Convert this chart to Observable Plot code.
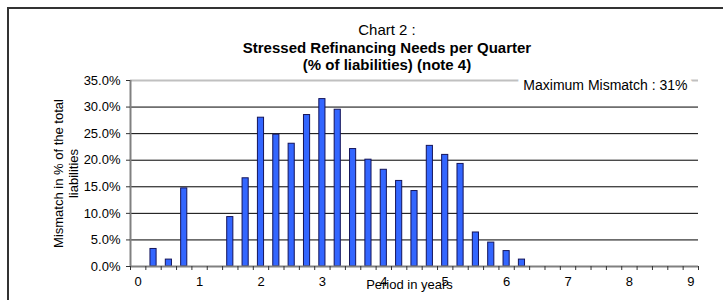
<!DOCTYPE html>
<html><head><meta charset="utf-8">
<script src="https://cdn.jsdelivr.net/npm/d3@7"></script>
<script src="https://cdn.jsdelivr.net/npm/@observablehq/plot@0.6"></script>
<style>
body{margin:0;background:#fff;overflow:hidden;font-family:"Liberation Sans",Arial,sans-serif;}
#wrap{position:relative;width:723px;height:300px;overflow:hidden;}
#frame{position:absolute;left:7px;top:7px;width:900px;height:400px;border-left:2px solid #333;border-top:2px solid #333;}
#title{position:absolute;left:0;top:21px;width:774px;text-align:center;font-size:15px;line-height:17.5px;color:#000;}
#chart{position:absolute;left:0;top:0;}
</style></head>
<body>
<div id="wrap">
  <div id="frame"></div>
  <div id="chart"></div>
  <div id="title">Chart 2 :<br><b>Stressed Refinancing Needs per Quarter</b><br><b>(% of liabilities) (note 4)</b></div>
</div>
<script>
// Period in years (one category per quarter)
const periods = [0, 0.25, 0.5, 0.75, 1, 1.25, 1.5, 1.75, 2, 2.25, 2.5, 2.75, 3, 3.25, 3.5, 3.75,
  4, 4.25, 4.5, 4.75, 5, 5.25, 5.5, 5.75, 6, 6.25, 6.5, 6.75, 7, 7.25, 7.5, 7.75, 8, 8.25, 8.5, 8.75, 9];
// Mismatch in % of total liabilities
const mismatch = [0, 3.3, 1.3, 14.7, 0, 0, 9.3, 16.6, 28.0, 24.8, 23.1, 28.5, 31.5, 29.5, 22.1, 20.1,
  18.2, 16.1, 14.2, 22.7, 21.0, 19.3, 6.4, 4.5, 2.9, 1.3, 0, 0, 0, 0, 0, 0, 0, 0, 0, 0, 0];
const yTicks = [0, 5, 10, 15, 20, 25, 30, 35];
const xLabels = [0, 1, 2, 3, 4, 5, 6, 7, 8, 9];
const yLabel = "Mismatch in % of the total\nliabilities";
const xLabel = "Period in years";
const note = "Maximum Mismatch : 31%";

const step = periods[1] - periods[0];
const data = periods.map((p, i) => ({p, v: mismatch[i]})).filter(d => d.v > 0);
const boundaries = periods.map(p => p - step / 2).concat([periods[periods.length - 1] + step / 2]);
const xDomain = [boundaries[0], boundaries[boundaries.length - 1]];
const barFrac = 0.4; // Excel gap width 150%

const chart = Plot.plot({
  width: 723, height: 300,
  marginLeft: 130, marginRight: 25, marginTop: 80, marginBottom: 34,
  style: {fontFamily: "'Liberation Sans', Arial, sans-serif", fontSize: "13px", color: "#000", background: "transparent", overflow: "visible"},
  x: {domain: xDomain},
  y: {domain: [0, 35]},
  marks: [
    Plot.ruleY(yTicks.filter(t => t > 0 && t < 35), {stroke: "#000", strokeWidth: 1}),
    Plot.ruleY([35], {stroke: "#c0c0c0", strokeWidth: 2}),
    Plot.rectY(data, {x1: d => d.p - step * barFrac / 2, x2: d => d.p + step * barFrac / 2, y: "v",
      fill: "#3366ff", stroke: "#14145a", strokeWidth: 1}),
    Plot.ruleX([xDomain[0]], {stroke: "#808080", strokeWidth: 2}),
    Plot.ruleY([0], {stroke: "#808080", strokeWidth: 2}),
    Plot.axisY({ticks: yTicks, tickFormat: d => d.toFixed(1) + "%", tickSize: 4, tickPadding: 6, label: null, stroke: "#333", fontSize: 13}),
    Plot.axisX({ticks: boundaries, tickFormat: () => "", tickSize: 4, label: null, stroke: "#333"}),
    Plot.axisX({ticks: xLabels, tickSize: 0, tickPadding: 10, label: null, fontSize: 13}),
    Plot.text([yLabel], {frameAnchor: "left", textAnchor: "middle", rotate: -90, dx: -65, lineHeight: 1.15, fontSize: 13}),
    Plot.text([xLabel], {frameAnchor: "bottom", textAnchor: "middle", dx: -5, dy: 22, fontSize: 13}),
    Plot.text([note], {frameAnchor: "top-right", textAnchor: "end", dx: -11, fontSize: 14, fill: "#000", stroke: "#fff", strokeWidth: 12, paintOrder: "stroke"})
  ]
});
document.getElementById("chart").appendChild(chart);
</script>
</body></html>
